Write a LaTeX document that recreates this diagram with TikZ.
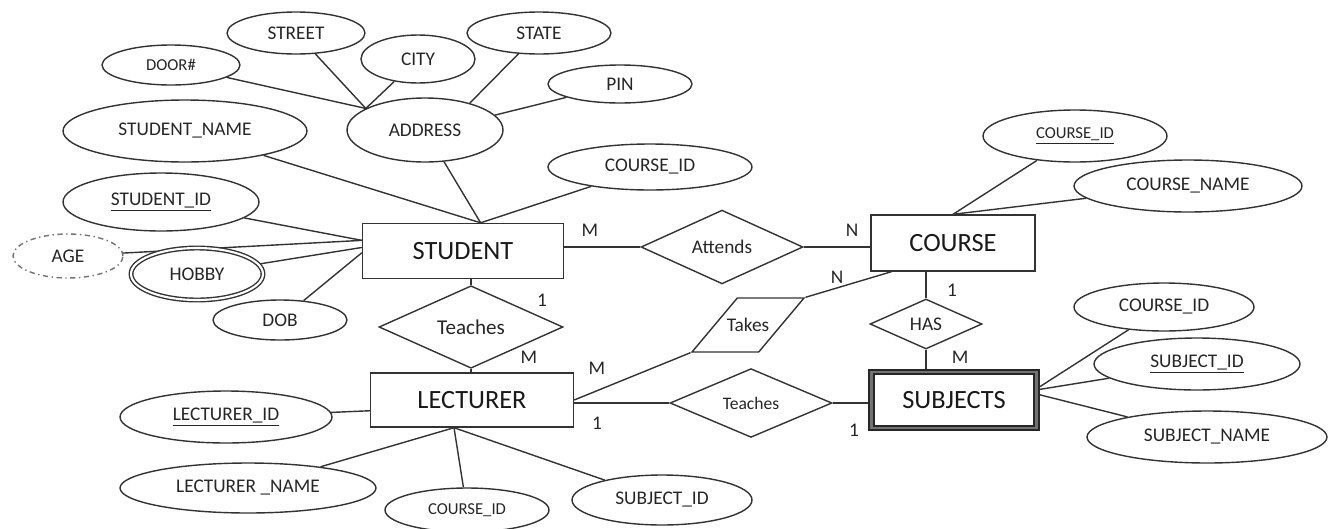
\documentclass[tikz,border=0pt]{standalone}
\usepackage{fontspec}
\setmainfont{Carlito}
\usetikzlibrary{shapes.geometric}
\newcommand{\entfont}{\fontsize{15}{17}\selectfont}
\newcommand{\attfont}{\fontsize{11}{12}\selectfont}
\newcommand{\smlfont}{\fontsize{9.5}{11}\selectfont}
\newcommand{\relfont}{\fontsize{11}{12}\selectfont}
\pgfdeclarelayer{edgelayer}
\pgfdeclarelayer{nodelayer}
\pgfsetlayers{edgelayer,nodelayer,main}
\tikzstyle{attr}=[ellipse,draw=black!80,line width=0.8pt,inner sep=0pt,text=black!85,font=\attfont]
\tikzstyle{entity}=[rectangle,draw=black!80,line width=0.8pt,inner sep=0pt,text=black!90,font=\entfont]
\tikzstyle{weakentity}=[rectangle,draw=black!85,line width=1pt,double=black!55,double distance=1.6pt,inner sep=0pt,text=black!90,font=\entfont]
\tikzstyle{relation}=[diamond,draw=black!80,line width=0.8pt,inner sep=0pt,text=black!85,font=\relfont]
\tikzstyle{slanted}=[trapezium,trapezium left angle=50,trapezium right angle=130,draw=black!80,line width=0.8pt,inner xsep=-6pt,inner ysep=11.5pt,text=black!85,font=\relfont]
\tikzstyle{card}=[inner sep=0pt,text=black!85,font=\relfont]
\tikzstyle{simple}=[-,draw=black!80,line width=0.8pt]

\begin{document}
\begin{tikzpicture}[x=0.02cm,y=-0.02cm]
	\useasboundingbox (0,0) rectangle (1328,528);
	\begin{pgfonlayer}{nodelayer}
		\node [style=attr, font=\smlfont, minimum width=2.76cm, minimum height=0.8cm] (door) at (171,65) {DOOR\#};
		\node [style=attr, minimum width=2.76cm, minimum height=0.84cm] (street) at (296,33) {STREET};
		\node [style=attr, minimum width=2.28cm, minimum height=0.96cm] (city) at (418,59) {CITY};
		\node [style=attr, minimum width=2.88cm, minimum height=0.84cm] (state) at (539,33) {STATE};
		\node [style=attr, minimum width=2.88cm, minimum height=0.76cm] (pin) at (620,84) {PIN};
		\node [style=attr, minimum width=3.12cm, minimum height=1.28cm] (address) at (425,130) {ADDRESS};
		\node [style=attr, minimum width=4.88cm, minimum height=1.24cm] (sname) at (185,131) {STUDENT\_NAME};
		\node [style=attr, minimum width=4.08cm, minimum height=0.92cm] (scourse) at (650,167) {COURSE\_ID};
		\node [style=attr, minimum width=3.92cm, minimum height=1.16cm] (sid) at (161,202) {\underline{STUDENT\_ID}};
		\node [style=attr, draw=black!55, dash pattern=on 3pt off 2pt on 0.8pt off 2pt, minimum width=2.2cm, minimum height=0.88cm] (age) at (68,256) {AGE};
		\node [style=attr, double, double distance=1.2pt, minimum width=2.64cm, minimum height=1.04cm] (hobby) at (197,274) {HOBBY};
		\node [style=attr, minimum width=2.68cm, minimum height=0.8cm] (dob) at (280,320) {DOB};
		\node [style=entity, minimum width=4.02cm, minimum height=1.1cm] (student) at (463,251) {STUDENT};
		\node [style=relation, font=\fontsize{12}{13}\selectfont, minimum width=3.68cm, minimum height=1.16cm] (teachS) at (471,327) {Teaches};
		\node [style=entity, minimum width=4.06cm, minimum height=1.08cm] (lecturer) at (472,400) {LECTURER};
		\node [style=attr, minimum width=4.24cm, minimum height=1.04cm] (lid) at (226,417) {\underline{LECTURER\_ID}};
		\node [style=attr, minimum width=5.12cm, minimum height=1.0cm] (lname) at (248,488) {LECTURER \_NAME};
		\node [style=attr, font=\smlfont, minimum width=3.28cm, minimum height=0.88cm] (lcourse) at (467,510) {COURSE\_ID};
		\node [style=attr, minimum width=3.6cm, minimum height=1.0cm] (lsubj) at (662,500) {SUBJECT\_ID};
		\node [style=relation, minimum width=3.24cm, minimum height=1.36cm] (attends) at (722,247) {Attends};
		\node [style=entity, minimum width=3.28cm, minimum height=1.12cm] (course) at (953,243) {COURSE};
		\node [style=attr, font=\smlfont, minimum width=3.68cm, minimum height=1.04cm] (cid) at (1075,136) {\underline{COURSE\_ID}};
		\node [style=attr, minimum width=4.56cm, minimum height=1.04cm] (cname) at (1188,186) {COURSE\_NAME};
		\node [style=slanted] (takes) at (748,325) {Takes};
		\node [style=relation, minimum width=2.24cm, minimum height=1.0cm] (has) at (926,324) {HAS};
		\node [style=relation, font=\fontsize{10}{11}\selectfont, minimum width=3.24cm, minimum height=1.04cm] (teachL) at (751,403) {Teaches};
		\node [style=weakentity, minimum width=3.3cm, minimum height=1.12cm] (subjects) at (954,400) {SUBJECTS};
		\node [style=attr, minimum width=3.6cm, minimum height=0.96cm] (subcourse) at (1164,307) {COURSE\_ID};
		\node [style=attr, minimum width=4.12cm, minimum height=1.04cm] (subid) at (1197,364) {\underline{SUBJECT\_ID}};
		\node [style=attr, minimum width=4.8cm, minimum height=1.04cm] (subname) at (1207,437) {SUBJECT\_NAME};
		\node [style=card] at (590,230) {M};
		\node [style=card] at (852,230) {N};
		\node [style=card] at (837,277) {N};
		\node [style=card] at (542,300) {1};
		\node [style=card] at (529,357) {M};
		\node [style=card] at (597,368) {M};
		\node [style=card] at (597,423) {1};
		\node [style=card] at (952,290) {1};
		\node [style=card] at (960,357) {M};
		\node [style=card] at (854,430) {1};
	\end{pgfonlayer}
	\begin{pgfonlayer}{edgelayer}
		\draw [style=simple] (door) to (address.160);
		\draw [style=simple] (street) to (address.160);
		\draw [style=simple] (city) to (address.160);
		\draw [style=simple] (state) to (address.31);
		\draw [style=simple] (pin) to (address.12);
		\draw [style=simple] (sname) to (student.58);
		\draw [style=simple] (address) to (student.58);
		\draw [style=simple] (scourse) to (student.58);
		\draw [style=simple] (sid) to (student.174);
		\draw [style=simple] (age) to (student.174);
		\draw [style=simple] (hobby) to (student.178);
		\draw [style=simple] (dob) to (student.181);
		\draw [style=simple] (teachS.north) to (teachS.north |- student.south);
		\draw [style=simple] (teachS.south) to (teachS.south |- lecturer.north);
		\draw [style=simple] (attends.west) to (attends.west -| student.east);
		\draw [style=simple] (attends.east) to (attends.east -| course.west);
		\draw [style=simple] (cid) to (course.north);
		\draw [style=simple] (cname) to (course.north);
		\draw [style=simple] (takes.top right corner) to (course.205);
		\draw [style=simple] (takes.bottom left corner) to (lecturer.east);
		\draw [style=simple] (has.north) to (has.north |- course.south);
		\draw [style=simple] (has.south) to (has.south |- subjects.north);
		\draw [style=simple] (teachL.west) to (teachL.west -| lecturer.east);
		\draw [style=simple] (teachL.east) to (teachL.east -| subjects.west);
		\draw [style=simple] (lid) to (lecturer.186);
		\draw [style=simple] (lname) to (lecturer.237);
		\draw [style=simple] (lcourse) to (lecturer.237);
		\draw [style=simple] (lsubj) to (lecturer.237);
		\draw [style=simple] (subcourse) to (subjects.8);
		\draw [style=simple] (subid) to (subjects.7);
		\draw [style=simple] (subname) to (subjects.4);
	\end{pgfonlayer}
\end{tikzpicture}
\end{document}
